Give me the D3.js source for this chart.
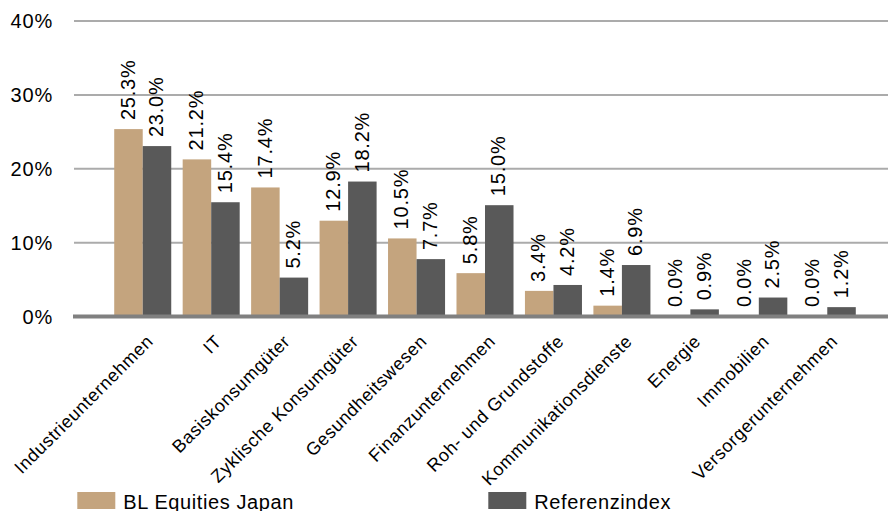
<!DOCTYPE html>
<html>
<head>
<meta charset="utf-8">
<script src="https://cdn.jsdelivr.net/npm/d3@7"></script>
<style>
  html, body { margin: 0; padding: 0; background: #fff; }
  svg { display: block; font-family: "Liberation Sans", Arial, sans-serif; }
</style>
</head>
<body>
<svg id="chart" width="888" height="511"></svg>
<script>
// Sector weights (%) of the fund vs. its reference index
const categories = [
  "Industrieunternehmen", "IT", "Basiskonsumgüter", "Zyklische Konsumgüter",
  "Gesundheitswesen", "Finanzunternehmen", "Roh- und Grundstoffe",
  "Kommunikationsdienste", "Energie", "Immobilien", "Versorgerunternehmen"
];
const seriesNames = ["BL Equities Japan", "Referenzindex"];
const fundValues  = [25.3, 21.2, 17.4, 12.9, 10.5, 5.8, 3.4, 1.4, 0.0, 0.0, 0.0];
const indexValues = [23.0, 15.4, 5.2, 18.2, 7.7, 15.0, 4.2, 6.9, 0.9, 2.5, 1.2];
const yTicks = [0, 10, 20, 30, 40];
const colors = ["#C4A47E", "#595959"];

const svg = d3.select("#chart");
const W = 888;

const y = d3.scaleLinear().domain([0, 40]).range([316, 20.5]);
const x = d3.scaleBand().domain(categories).range([108.5, 861.5])
  .paddingInner(0.167).paddingOuter(0.0835);
const xs = d3.scaleBand().domain(seriesNames).range([0, x.bandwidth()]);
const color = d3.scaleOrdinal().domain(seriesNames).range(colors);

const rows = categories.map((c, i) => ({
  cat: c,
  vals: [
    { s: seriesNames[0], v: fundValues[i] },
    { s: seriesNames[1], v: indexValues[i] }
  ]
}));

// horizontal gridlines
const grid = svg.append("g").attr("transform", "translate(74,0)")
  .call(d3.axisLeft(y).tickValues(yTicks.slice(1)).tickSize(-(W - 74)).tickFormat(""));
grid.select(".domain").remove();
grid.selectAll(".tick line").attr("stroke", "#ABABAB").attr("stroke-width", 2);

// y tick labels
const yAx = svg.append("g").attr("transform", "translate(53,0)")
  .call(d3.axisLeft(y).tickValues(yTicks).tickSize(0).tickPadding(0).tickFormat(d => d + "%"));
yAx.select(".domain").remove();
yAx.selectAll("text")
  .attr("font-size", 20).attr("fill", "#000")
  .attr("font-family", "Liberation Sans, Arial, sans-serif")
  .style("letter-spacing", "0.8px")
  .attr("dy", "0.36em");

// bars
const groups = svg.append("g").selectAll("g").data(rows).join("g")
  .attr("transform", d => `translate(${x(d.cat)},0)`);

groups.selectAll("rect").data(d => d.vals).join("rect")
  .attr("x", d => xs(d.s))
  .attr("width", xs.bandwidth())
  .attr("y", d => y(d.v))
  .attr("height", d => y(0) - y(d.v))
  .attr("fill", d => color(d.s));

// value labels, rotated
groups.selectAll("text").data(d => d.vals).join("text")
  .attr("transform", d => `translate(${xs(d.s) + xs.bandwidth() / 2 - 1},${y(d.v) - 9}) rotate(-90)`)
  .attr("dy", "0.36em")
  .attr("text-anchor", "start")
  .attr("font-size", 20)
  .style("letter-spacing", "0.8px")
  .attr("fill", "#000")
  .text(d => d.v.toFixed(1) + "%");

// baseline
svg.append("line")
  .attr("x1", 73).attr("x2", W)
  .attr("y1", y(0) + 0.5).attr("y2", y(0) + 0.5)
  .attr("stroke", "#808080").attr("stroke-width", 4);

// category labels
const xAx = svg.append("g").attr("transform", "translate(0,338)")
  .call(d3.axisBottom(x).tickSize(0).tickPadding(0));
xAx.select(".domain").remove();
xAx.selectAll("text")
  .attr("y", 0).attr("dy", "0.35em")
  .attr("text-anchor", "end")
  .attr("transform", "translate(7,0) rotate(-45)")
  .attr("font-size", 18)
  .attr("font-family", "Liberation Sans, Arial, sans-serif")
  .style("letter-spacing", "0.6px")
  .attr("fill", "#000");

// legend
const legendX = [77.3, 488.3];
const legend = svg.append("g").selectAll("g").data(seriesNames).join("g")
  .attr("transform", (d, i) => `translate(${legendX[i]},492)`);
legend.append("rect").attr("width", 38).attr("height", 17).attr("fill", d => color(d));
legend.append("text")
  .attr("x", 46).attr("y", 16.5)
  .attr("font-size", 20)
  .style("letter-spacing", "0.6px")
  .attr("fill", "#000")
  .text(d => d);
</script>
</body>
</html>
